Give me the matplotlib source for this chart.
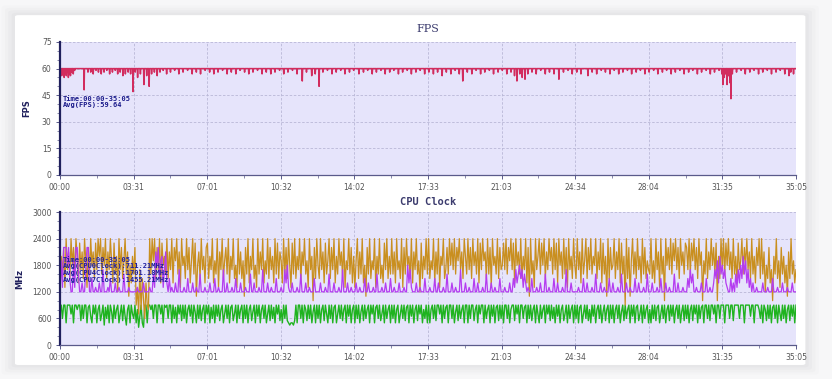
import numpy as np
import matplotlib
matplotlib.use('Agg')
import matplotlib.pyplot as plt
from matplotlib.patches import FancyBboxPatch
from matplotlib.ticker import FixedLocator, MultipleLocator

# time axis (seconds), 00:00 -> 35:05
total_sec = 2105
time_labels = ['00:00', '03:31', '07:01', '10:32', '14:02', '17:33',
               '21:03', '24:34', '28:04', '31:35', '35:05']

# FPS sits at 60 and drops at these moments (second, fps)
fps_base = 60
fps_dip_sec = [5, 9, 12, 15, 18, 21, 24, 27, 30, 34, 38, 42, 69, 80, 88, 95, 103, 110,
               118, 126, 134, 142, 150, 158, 165, 172, 180, 187, 195, 202, 209, 215, 222,
               230, 240, 248, 255, 262, 270, 278, 286, 295, 305, 316, 328, 340, 352, 365,
               378, 390, 402, 415, 428, 440, 452, 465, 478, 490, 503, 515, 528, 540, 552,
               565, 578, 590, 603, 615, 628, 640, 652, 665, 678, 693, 705, 720, 730, 741,
               752, 765, 778, 790, 803, 815, 828, 840, 855, 868, 880, 893, 905, 918, 930,
               943, 955, 968, 980, 993, 1005, 1018, 1030, 1043, 1055, 1068, 1080, 1093,
               1105, 1118, 1130, 1142, 1152, 1165, 1178, 1190, 1203, 1215, 1228, 1240,
               1253, 1265, 1278, 1290, 1300, 1307, 1315, 1322, 1330, 1338, 1350, 1362,
               1375, 1388, 1400, 1413, 1427, 1440, 1453, 1465, 1478, 1490, 1510, 1522,
               1535, 1548, 1560, 1573, 1585, 1598, 1610, 1623, 1635, 1648, 1660, 1673,
               1685, 1698, 1710, 1723, 1735, 1748, 1760, 1773, 1785, 1798, 1810, 1823,
               1835, 1848, 1860, 1872, 1885, 1893, 1896, 1900, 1904, 1908, 1912, 1916,
               1919, 1923, 1935, 1948, 1960, 1973, 1985, 1998, 2010, 2023, 2035, 2048,
               2060, 2073, 2085, 2090, 2098]
fps_dip_val = [56, 58, 55, 57, 56, 58, 55, 57, 56, 58, 57, 59, 48, 58, 58, 57, 59, 58,
               57, 58, 59, 57, 58, 59, 57, 58, 56, 57, 58, 57, 47, 58, 55,
               57, 51, 56, 50, 57, 58, 56, 58, 59, 57, 58, 59, 57, 58, 59,
               57, 58, 57, 59, 58, 57, 58, 59, 57, 58, 57, 59, 58, 57, 58,
               59, 57, 58, 57, 58, 59, 57, 58, 59, 57, 53, 58, 56, 57, 50,
               58, 59, 57, 58, 59, 57, 58, 59, 57, 58, 59, 57, 58, 59, 57,
               58, 59, 57, 58, 59, 57, 58, 59, 57, 58, 57, 58, 56,
               58, 57, 59, 57, 53, 58, 57, 59, 57, 58, 59, 57,
               58, 59, 57, 58, 56, 53, 57, 55, 54, 57, 58, 57,
               59, 57, 58, 57, 54, 58, 59, 57, 58, 57, 56, 58,
               57, 59, 58, 57, 59, 57, 58, 59, 57, 58, 59, 57,
               58, 59, 57, 58, 59, 57, 58, 59, 57, 58, 59, 57,
               58, 59, 57, 58, 59, 57, 51, 55, 57, 51, 56, 52,
               43, 57, 58, 59, 57, 58, 59, 57, 58, 59, 57, 58,
               59, 57, 56, 58, 57]

# CPU clocks in units of 100 MHz, 600 samples, one row per half tick interval
mhz_unit = 100
cpu_small = [
    9, 9, 6, 9, 9, 5, 9, 9, 9, 7, 9, 5, 9, 9, 8, 9, 9, 5.5, 9, 6, 9, 9, 5, 8.5, 9, 6.5, 5, 9, 7, 9,
    5, 8, 9, 5.5, 7, 9, 4.5, 8.5, 6, 9, 5, 9, 7.5, 5, 9, 6, 8, 9, 5, 7, 9, 5.5, 9, 6.5, 4.5, 8, 9, 5, 9, 7,
    6, 9, 5, 8, 4, 6.5, 9, 5, 4, 9, 9, 5, 9, 9, 8, 9, 6, 9, 9, 5, 9, 9, 7, 9, 5, 9, 8.5, 9, 6, 9,
    9, 5, 9, 6, 8.5, 5, 9, 7, 9, 5.5, 9, 6, 9, 5, 8, 9, 6.5, 9, 5, 9, 7.5, 5, 9, 6, 9, 5.5, 8, 9, 5, 9,
    7, 9, 5, 8.5, 6, 9, 5, 9, 6.5, 9, 5.5, 8, 9, 5, 7, 9, 6, 9, 5, 8.5, 9, 5.5, 7, 9, 5, 9, 6, 8, 9, 5,
    9, 6, 9, 5, 8, 9, 5.5, 7.5, 9, 5, 9, 6.5, 9, 5, 8, 9, 6, 9, 5, 7, 9, 5.5, 9, 6, 8.5, 5, 9, 7, 9, 5.5,
    8, 5, 9, 6, 9, 5.5, 5, 4.5, 5, 5, 4.5, 5.5, 9, 5, 9, 9, 6, 9, 5, 9, 8, 5.5, 9, 6, 9, 5, 7.5, 9, 5, 9,
    6, 9, 5, 8, 9, 5.5, 9, 7, 5, 9, 6, 9, 5, 8.5, 9, 5, 7, 9, 6, 9, 5.5, 8, 9, 5, 9, 6.5, 9, 5, 8, 9,
    5, 9, 6, 9, 5, 7.5, 9, 5.5, 9, 6, 8, 9, 5, 9, 7, 9, 5, 8.5, 9, 6, 9, 5.5, 7, 9, 5, 9, 6, 8, 9, 5,
    9, 6, 9, 5, 8, 9, 5, 7, 9, 6, 9, 5.5, 8.5, 9, 5, 9, 6.5, 9, 5, 8, 9, 5.5, 9, 7, 9, 5, 8, 6, 9, 5,
    9, 5, 8, 9, 6, 9, 5.5, 9, 9, 7, 9, 5, 9, 6, 8.5, 9, 5, 9, 9, 6, 9, 5, 7.5, 9, 5.5, 9, 6, 8, 9, 5,
    9, 9, 5, 9, 6, 9, 9, 5.5, 8, 9, 5, 9, 7, 9, 9, 5, 9, 6, 8, 9, 5, 9, 6.5, 9, 5, 8.5, 9, 5.5, 9, 6,
    9, 5, 9, 9, 6, 9, 5, 8, 9, 9, 5.5, 9, 7, 9, 5, 9, 9, 6, 8.5, 9, 5, 9, 6, 9, 5.5, 8, 9, 5, 9, 7,
    5, 9, 6, 8, 9, 5, 9, 7, 9, 5.5, 9, 6, 8.5, 5, 9, 6.5, 9, 5, 8, 9, 5.5, 7, 9, 5, 9, 6, 8, 9, 5, 9,
    6, 9, 5, 8.5, 9, 5, 7, 9, 6, 9, 5.5, 8, 5, 9, 6.5, 9, 5, 8, 9, 6, 9, 5, 7.5, 9, 5.5, 8, 9, 5, 9, 6,
    9, 5, 8, 9, 6, 9, 5, 7.5, 9, 5.5, 9, 6, 8, 9, 5, 9, 6.5, 9, 5, 8.5, 9, 5.5, 7, 9, 5, 9, 6, 8, 9, 5,
    8, 5, 9, 6, 9, 5.5, 8.5, 9, 5, 7, 9, 6, 9, 5, 8, 9, 5.5, 9, 6.5, 9, 5, 8, 9, 6, 9, 5, 7.5, 9, 5.5, 9,
    6, 9, 5, 8, 9, 5.5, 9, 7, 9, 5, 9, 6, 8.5, 9, 5, 9, 9, 6, 9, 5.5, 9, 9, 7, 9, 5, 9, 9, 6, 9, 9,
    9, 5, 9, 9, 9, 6, 9, 9, 5.5, 9, 9, 9, 9, 6, 9, 9, 9, 5, 9, 9, 9, 9, 6.5, 9, 9, 5, 9, 9, 9, 8,
    6, 9, 5, 9, 8, 5.5, 9, 6, 9, 5, 8.5, 9, 6, 9, 5, 9, 7, 5.5, 9, 6, 9, 5, 8, 9, 5.5, 9, 6.5, 9, 5, 9]

cpu_mid = [
    14, 20, 16, 22, 13, 24, 17, 21, 15, 24, 18, 22, 16, 24, 20, 14, 23, 17, 21, 15, 24, 19, 13, 22, 16, 24, 18, 21, 15, 23,
    17, 24, 20, 24, 16, 22, 18, 24, 15, 21, 17, 24, 19, 14, 23, 16, 20, 12, 24, 17, 22, 15, 19, 24, 16, 21, 11, 18, 14, 20,
    16, 22, 9, 13, 7, 17, 8, 15, 10, 6, 14, 9, 8, 24, 16, 24, 19, 24, 15, 22, 17, 24, 14, 23, 18, 20, 16, 24, 15, 21,
    17, 24, 14, 22, 19, 24, 16, 21, 13, 24, 18, 20, 15, 24, 17, 22, 14, 19, 24, 16, 23, 11, 18, 21, 15, 24, 17, 20, 14, 22,
    23, 15, 20, 17, 24, 14, 19, 16, 24, 13, 21, 17, 24, 15, 19, 22, 16, 24, 14, 20, 17, 24, 15, 18, 13, 24, 16, 21, 15, 19,
    11, 22, 16, 24, 14, 20, 17, 24, 15, 18, 13, 24, 16, 21, 17, 24, 14, 19, 16, 24, 15, 22, 17, 20, 14, 24, 16, 23, 15, 21,
    19, 14, 24, 16, 22, 15, 24, 18, 13, 23, 16, 24, 15, 20, 17, 24, 14, 21, 18, 24, 16, 19, 13, 24, 17, 20, 10, 22, 15, 24,
    18, 15, 24, 17, 21, 14, 23, 16, 19, 24, 15, 22, 17, 24, 14, 20, 16, 24, 18, 21, 15, 24, 13, 19, 17, 24, 16, 22, 14, 20,
    13, 19, 24, 15, 21, 16, 24, 14, 18, 11, 22, 16, 24, 15, 19, 17, 24, 13, 20, 16, 24, 15, 18, 14, 23, 17, 24, 15, 20, 16,
    24, 16, 21, 14, 24, 17, 19, 15, 24, 13, 22, 16, 24, 18, 20, 15, 24, 14, 21, 17, 24, 16, 19, 12, 23, 15, 20, 17, 24, 16,
    24, 15, 19, 17, 24, 14, 21, 16, 24, 13, 20, 18, 24, 15, 17, 22, 16, 24, 18, 23, 17, 24, 16, 22, 19, 24, 17, 21, 15, 24,
    20, 16, 24, 17, 22, 15, 24, 18, 21, 16, 24, 14, 23, 17, 24, 19, 21, 15, 24, 16, 22, 13, 24, 18, 20, 16, 24, 15, 22, 17,
    18, 23, 17, 24, 16, 22, 19, 24, 17, 23, 14, 24, 18, 21, 16, 24, 15, 20, 17, 24, 14, 22, 11, 24, 16, 19, 13, 24, 17, 20,
    24, 16, 23, 18, 24, 15, 21, 17, 24, 19, 22, 16, 24, 17, 23, 14, 24, 18, 21, 15, 24, 16, 22, 13, 24, 17, 20, 15, 24, 18,
    15, 24, 17, 21, 14, 24, 16, 19, 24, 15, 22, 17, 24, 16, 20, 18, 24, 15, 21, 17, 24, 14, 23, 16, 20, 11, 24, 15, 22, 17,
    18, 24, 15, 21, 17, 24, 14, 23, 16, 20, 9, 24, 15, 22, 11, 19, 24, 16, 21, 15, 24, 17, 20, 14, 24, 16, 22, 15, 19, 17,
    16, 24, 15, 19, 14, 24, 17, 21, 13, 24, 16, 20, 10, 24, 18, 22, 17, 24, 16, 23, 19, 24, 17, 22, 15, 24, 18, 21, 16, 23,
    22, 17, 24, 16, 23, 19, 24, 17, 22, 15, 24, 18, 21, 10, 19, 16, 24, 15, 21, 17, 24, 18, 22, 16, 23, 10, 20, 15, 24, 17,
    24, 16, 23, 18, 24, 17, 21, 15, 24, 16, 20, 14, 23, 17, 19, 24, 16, 22, 18, 24, 17, 21, 15, 24, 16, 20, 14, 22, 18, 24,
    15, 24, 16, 21, 12, 18, 15, 22, 14, 17, 10, 20, 16, 24, 15, 19, 13, 22, 16, 20, 14, 18, 11, 21, 15, 24, 16, 19, 14, 17]

cpu_big = [
    12, 19, 13, 22, 22, 22, 18, 22, 15, 12, 12, 19, 13, 22, 22, 16, 12, 12, 14, 12, 12, 17, 22, 22, 12, 12, 15, 12, 12, 13,
    12, 12, 14, 12, 12, 17, 12, 12, 12, 13, 12, 15, 12, 12, 12, 14, 12, 12, 13, 12, 12, 12, 16, 12, 12, 12, 13, 12, 12, 12,
    12, 12, 12, 13, 12, 12, 12, 12, 14, 12, 12, 12, 12, 13, 12, 12, 16, 13, 21, 18, 22, 15, 19, 20, 13, 17, 21, 14, 12, 15,
    12, 13, 12, 12, 14, 12, 12, 17, 12, 12, 12, 13, 12, 12, 15, 12, 12, 12, 14, 12, 12, 13, 12, 12, 16, 12, 12, 12, 13, 12,
    12, 12, 14, 12, 12, 12, 15, 12, 12, 13, 12, 12, 12, 17, 12, 12, 14, 12, 12, 12, 13, 12, 12, 15, 12, 12, 12, 14, 12, 12,
    12, 13, 12, 12, 12, 16, 12, 12, 14, 12, 12, 12, 13, 12, 12, 17, 12, 12, 12, 14, 12, 12, 13, 12, 12, 12, 15, 12, 12, 12,
    13, 12, 12, 17, 14, 18, 13, 12, 12, 14, 12, 12, 12, 13, 12, 12, 16, 12, 12, 12, 14, 12, 12, 13, 12, 12, 12, 15, 12, 12,
    12, 12, 14, 12, 12, 12, 13, 12, 12, 16, 12, 12, 12, 14, 12, 12, 12, 13, 12, 12, 17, 12, 12, 12, 14, 12, 12, 13, 12, 12,
    12, 14, 12, 12, 13, 12, 12, 12, 15, 12, 12, 14, 12, 12, 12, 13, 12, 12, 16, 12, 12, 12, 13, 12, 12, 14, 12, 12, 12, 15,
    12, 12, 13, 12, 12, 12, 14, 12, 12, 12, 13, 12, 12, 18, 14, 17, 13, 12, 12, 12, 14, 12, 12, 13, 12, 12, 12, 15, 12, 12,
    12, 13, 12, 12, 12, 15, 12, 12, 14, 12, 12, 12, 13, 12, 12, 16, 12, 12, 12, 14, 12, 12, 13, 12, 12, 12, 17, 12, 12, 12,
    14, 12, 12, 13, 12, 12, 12, 15, 12, 12, 14, 12, 12, 12, 13, 12, 12, 16, 12, 12, 12, 14, 12, 12, 13, 12, 12, 12, 15, 12,
    12, 12, 13, 12, 12, 12, 14, 12, 12, 15, 13, 17, 14, 16, 18, 15, 17, 13, 16, 14, 12, 13, 12, 12, 15, 12, 12, 12, 13, 12,
    12, 14, 12, 12, 12, 16, 12, 12, 13, 12, 12, 12, 15, 12, 12, 14, 12, 12, 12, 13, 12, 12, 17, 12, 12, 12, 14, 12, 12, 12,
    12, 12, 13, 12, 12, 12, 15, 12, 12, 14, 12, 12, 12, 13, 12, 12, 16, 12, 12, 12, 14, 12, 12, 13, 12, 12, 12, 15, 12, 12,
    14, 12, 12, 12, 13, 12, 12, 16, 12, 12, 12, 14, 12, 12, 13, 12, 12, 12, 15, 12, 12, 14, 12, 12, 12, 13, 12, 12, 16, 12,
    12, 12, 14, 12, 12, 12, 13, 12, 12, 15, 12, 12, 12, 14, 12, 12, 13, 12, 12, 12, 16, 12, 12, 14, 12, 12, 12, 13, 12, 12,
    12, 15, 13, 17, 14, 16, 12, 12, 13, 12, 12, 12, 14, 12, 12, 12, 15, 12, 12, 13, 12, 12, 14, 17, 15, 19, 14, 20, 16, 18,
    15, 17, 14, 13, 12, 12, 15, 12, 14, 12, 16, 13, 17, 14, 18, 15, 20, 16, 19, 14, 17, 13, 15, 12, 14, 12, 12, 13, 12, 12,
    12, 12, 14, 12, 12, 12, 13, 12, 12, 12, 15, 12, 12, 12, 13, 12, 12, 12, 14, 12, 12, 12, 13, 12, 12, 12, 14, 12, 12, 12]

fps_text = 'Time:00:00-35:05\nAvg(FPS):59.64'
cpu_text = ('Time:00:00-35:05\nAvg(CPU0Clock):711.21MHz\n'
            'Avg(CPU4Clock):1701.18MHz\nAvg(CPU7Clock):1455.21MHz')

BG = '#e6e4fb'
NAVY = '#1f1f5c'
GRID = '#b9b7d6'


def style_axes(ax, ymax, ystep, yminor):
    ax.set_facecolor(BG)
    ax.set_xlim(0, total_sec)
    ax.set_ylim(0, ymax)
    ax.xaxis.set_major_locator(FixedLocator(np.linspace(0, total_sec, len(time_labels))))
    ax.set_xticklabels(time_labels)
    ax.xaxis.set_minor_locator(FixedLocator(np.linspace(0, total_sec, 2 * len(time_labels) - 1)))
    ax.yaxis.set_major_locator(MultipleLocator(ystep))
    ax.yaxis.set_minor_locator(MultipleLocator(yminor))
    ax.grid(True, which='major', color=GRID, linestyle=(0, (3, 2)), linewidth=0.6)
    ax.set_axisbelow(True)
    for side in ['top', 'right']:
        ax.spines[side].set_visible(False)
    ax.spines['left'].set_color(NAVY)
    ax.spines['left'].set_linewidth(1.6)
    ax.spines['bottom'].set_color('#5a5a8a')
    ax.spines['bottom'].set_linewidth(0.9)
    ax.tick_params(which='major', length=3, width=0.7, color='#5a5a8a',
                   labelsize=5.5, labelcolor='#555555', pad=3)
    ax.tick_params(which='minor', length=2, width=0.5, color='#5a5a8a')


fig = plt.figure(figsize=(8.32, 3.79), dpi=100)
fig.patch.set_facecolor('#f7f7f8')

# card with a soft shadow, kept behind the axes
for i, a in enumerate([0.03, 0.04, 0.05, 0.06]):
    grow = (4 - i) * 0.004
    fig.patches.append(FancyBboxPatch((0.018 - grow, 0.037 - grow * 1.6), 0.950 + 2 * grow,
                                      0.923 + grow * 3.2, boxstyle='round,pad=0,rounding_size=0.006',
                                      transform=fig.transFigure, facecolor='#9a9aa8', alpha=a,
                                      edgecolor='none', zorder=-20))
fig.patches.append(FancyBboxPatch((0.018, 0.037), 0.950, 0.923,
                                  boxstyle='round,pad=0,rounding_size=0.004',
                                  transform=fig.transFigure, facecolor='white',
                                  edgecolor='none', zorder=-10))

ax1 = fig.add_axes([0.0721, 0.5383, 0.8846, 0.3509])
ax2 = fig.add_axes([0.0721, 0.0897, 0.8846, 0.3509])

# FPS panel
fps_t = np.arange(total_sec + 1)
fps = np.full(len(fps_t), float(fps_base))
fps[fps_dip_sec] = fps_dip_val
ax1.plot(fps_t, fps, color='#d22c5e', linewidth=1.1)
style_axes(ax1, 75, 15, 5)
ax1.set_title('FPS', fontsize=8, color='#3c3c6e', family='DejaVu Serif', pad=7)
ax1.set_ylabel('FPS', fontsize=6, color=NAVY, fontweight='bold', labelpad=8)
ax1.text(0.004, 0.595, fps_text, transform=ax1.transAxes, fontsize=5, color='#1a1a8a',
         family='DejaVu Sans Mono', fontweight='bold', va='top', linespacing=1.1)

# CPU clock panel
cpu_t = np.linspace(0, total_sec, len(cpu_mid))
ax2.plot(cpu_t, np.array(cpu_small) * mhz_unit, color='#1fb31f', linewidth=1.0)
ax2.plot(cpu_t, np.array(cpu_mid) * mhz_unit, color='#c98f1f', linewidth=0.9)
ax2.plot(cpu_t, np.array(cpu_big) * mhz_unit, color='#b43cf0', linewidth=0.9)
style_axes(ax2, 3000, 600, 200)
ax2.set_title('CPU Clock', fontsize=7.5, color='#3c3c6e', family='DejaVu Sans Mono',
              fontweight='bold', pad=5)
ax2.set_ylabel('MHz', fontsize=6, color=NAVY, fontweight='bold', labelpad=6)
ax2.text(0.004, 0.665, cpu_text, transform=ax2.transAxes, fontsize=5.1, color='#2020a0',
         family='DejaVu Sans Mono', fontweight='bold', va='top', linespacing=1.15, zorder=5)

fig.savefig('out.png', dpi=100, facecolor=fig.get_facecolor())
